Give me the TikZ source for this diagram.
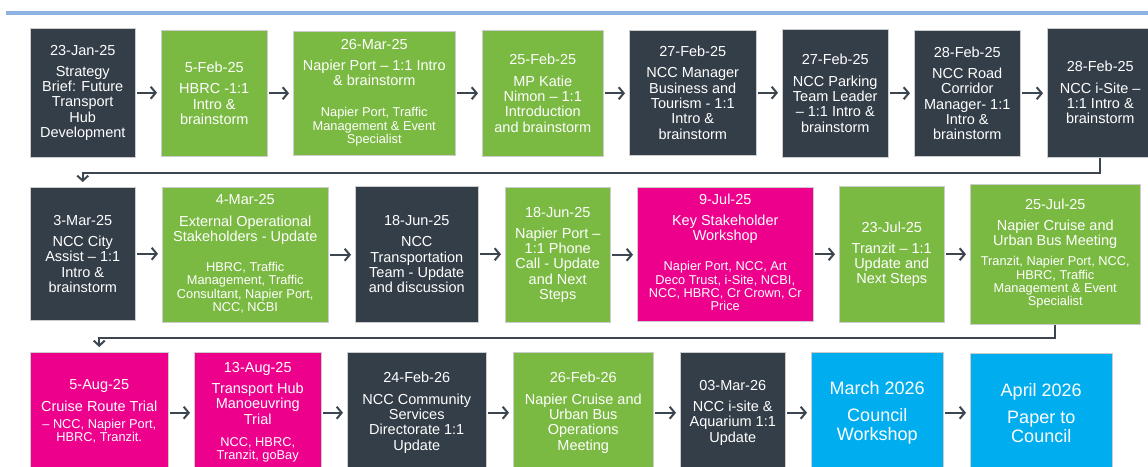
\documentclass[tikz,border=0pt]{standalone}
\usepackage{fontspec}
\setmainfont{Liberation Sans}
\usetikzlibrary{arrows.meta}

\definecolor{slate}{RGB}{52,62,72}
\definecolor{leaf}{RGB}{123,186,66}
\definecolor{rose}{RGB}{236,0,140}
\definecolor{sky}{RGB}{0,174,239}
\definecolor{rule}{RGB}{141,179,226}
\definecolor{ink}{RGB}{60,70,80}

\newcommand\titlefont{\fontsize{14.5}{15.3}\selectfont}
\newcommand\bigfont{\fontsize{18}{19}\selectfont}
\newcommand\who[1]{{\fontsize{12.8}{13.3}\selectfont\begin{tabular}[t]{@{}c@{}}#1\end{tabular}}}

\tikzset{
  wh/.style 2 args={minimum width=#1pt, minimum height=#2pt},
  stepbox/.style={anchor=north west, inner sep=0pt, align=center, text=white,
    font=\titlefont, draw=white!80!black, line width=0.5pt},
  darkbox/.style={stepbox, fill=slate},
  greenbox/.style={stepbox, fill=leaf},
  pinkbox/.style={stepbox, fill=rose},
  bluebox/.style={stepbox, fill=sky, font=\bigfont},
  arr/.style={draw=ink, line width=2pt, -{Straight Barb[length=5pt,width=12pt]},
    shorten <=1.5pt, shorten >=4pt},
  link/.style={draw=ink, line width=2pt, -{Straight Barb[length=5pt,width=11pt]},
    shorten >=5pt},
  topline/.style={draw=rule, line width=3.5pt}
}

\begin{document}
\begin{tikzpicture}[x=1pt, y=-1pt]
	\useasboundingbox (0,0) rectangle (1148,466);
	\clip (0,0) rectangle (1148,466);

	\draw[topline] (6,13) -- (1148,13);

	\node[darkbox, wh={105}{129}] (b1) at (30,28) {23-Jan-25\\[6pt]Strategy\\Brief: Future\\Transport\\Hub\\Development};
	\node[greenbox, wh={106}{126}] (b2) at (161,30) {5-Feb-25\\[6pt]HBRC -1:1\\Intro \&\\brainstorm};
	\node[greenbox, wh={162}{124}] (b3) at (293,31) {26-Mar-25\\[6pt]Napier Port -- 1:1 Intro\\\& brainstorm\\[15.5pt]\who{Napier Port, Traffic\\Management \& Event\\Specialist}};
	\node[greenbox, wh={121}{126}] (b4) at (482,30) {25-Feb-25\\[6pt]MP Katie\\Nimon -- 1:1\\Introduction\\and brainstorm};
	\node[darkbox, wh={127}{125}] (b5) at (629,30) {27-Feb-25\\[6pt]NCC Manager\\Business and\\Tourism - 1:1\\Intro \&\\brainstorm};
	\node[darkbox, wh={106}{128}] (b6) at (782,29) {27-Feb-25\\[6pt]NCC Parking\\Team Leader\\-- 1:1 Intro \&\\brainstorm};
	\node[darkbox, wh={106}{126}] (b7) at (914,30) {28-Feb-25\\[6pt]NCC Road\\Corridor\\Manager- 1:1\\Intro \&\\brainstorm};
	\node[darkbox, wh={106}{129}] (b8) at (1047,28) {28-Feb-25\\[6pt]NCC i-Site --\\1:1 Intro \&\\brainstorm};

	\node[darkbox, wh={105}{133}] (b9) at (30,187) {3-Mar-25\\[6pt]NCC City\\Assist -- 1:1\\Intro \&\\brainstorm};
	\node[greenbox, wh={166}{135}] (b10) at (162,187) {4-Mar-25\\[7pt]External Operational\\Stakeholders - Update\\[14.5pt]\who{HBRC, Traffic\\Management,  Traffic\\Consultant,  Napier Port,\\NCC, NCBI}};
	\node[darkbox, wh={123}{136}] (b11) at (355,186) {18-Jun-25\\[6pt]NCC\\Transportation\\Team - Update\\and discussion};
	\node[greenbox, wh={105}{135}] (b12) at (505,187) {18-Jun-25\\[6pt]Napier Port --\\1:1 Phone\\Call - Update\\and Next\\Steps};
	\node[pinkbox, wh={176}{134}] (b13) at (637,187) {9-Jul-25\\[6pt]Key Stakeholder\\Workshop\\[14.5pt]\who{Napier Port, NCC, Art\\Deco Trust, i-Site, NCBI,\\NCC, HBRC,  Cr Crown, Cr\\Price}};
	\node[greenbox, wh={105}{136}] (b14) at (839,186) {23-Jul-25\\[6pt]Tranzit -- 1:1\\Update and\\Next Steps};
	\node[greenbox, wh={170}{140}] (b15) at (970,184) {25-Jul-25\\[6pt]Napier Cruise and\\Urban Bus Meeting\\[4.5pt]\who{Tranzit, Napier Port, NCC,\\HBRC, Traffic\\Management  \& Event\\Specialist}};

	\node[pinkbox, wh={138}{121}] (b16) at (30,352) {5-Aug-25\\[6pt]Cruise Route Trial\\[2pt]\who{-- NCC, Napier Port,\\HBRC, Tranzit.}};
	\node[pinkbox, wh={127}{121}] (b17) at (194,352) {13-Aug-25\\[6pt]Transport Hub\\Manoeuvring\\Trial\\[6.5pt]\who{NCC, HBRC,\\Tranzit, goBay}};
	\node[darkbox, wh={139}{121}] (b18) at (347,352) {24-Feb-26\\[6pt]NCC Community\\Services\\Directorate 1:1\\Update};
	\node[greenbox, wh={140}{121}] (b19) at (513,352) {26-Feb-26\\[6pt]Napier Cruise and\\Urban Bus\\Operations\\Meeting};
	\node[darkbox, wh={105}{121}] (b20) at (680,352) {03-Mar-26\\[6pt]NCC i-site \&\\Aquarium 1:1\\Update};
	\node[bluebox, wh={132}{121}] (b21) at (811,352) {March 2026\\[8pt]Council\\Workshop};
	\node[bluebox, wh={142}{120}] (b22) at (970,353) {April 2026\\[8pt]Paper to\\Council};

	\draw[arr] (b1.east) -- (b1.east -| b2.west);
	\draw[arr] (b2.east) -- (b2.east -| b3.west);
	\draw[arr] (b3.east) -- (b3.east -| b4.west);
	\draw[arr] (b4.east) -- (b4.east -| b5.west);
	\draw[arr] (b5.east) -- (b5.east -| b6.west);
	\draw[arr] (b6.east) -- (b6.east -| b7.west);
	\draw[arr] (b7.east) -- (b7.east -| b8.west);
	\draw[link] (b8.south) -- ++(0,15.5) -| (b9.north);

	\draw[arr] (b9.east) -- (b9.east -| b10.west);
	\draw[arr] (b10.east) -- (b10.east -| b11.west);
	\draw[arr] (b11.east) -- (b11.east -| b12.west);
	\draw[arr] (b12.east) -- (b12.east -| b13.west);
	\draw[arr] (b13.east) -- (b13.east -| b14.west);
	\draw[arr] (b14.east) -- (b14.east -| b15.west);
	\draw[link] (b15.south) -- ++(0,13.5) -| (b16.north);

	\draw[arr] (b16.east) -- (b16.east -| b17.west);
	\draw[arr] (b17.east) -- (b17.east -| b18.west);
	\draw[arr] (b18.east) -- (b18.east -| b19.west);
	\draw[arr] (b19.east) -- (b19.east -| b20.west);
	\draw[arr] (b20.east) -- (b20.east -| b21.west);
	\draw[arr] (b21.east) -- (b21.east -| b22.west);
\end{tikzpicture}
\end{document}
